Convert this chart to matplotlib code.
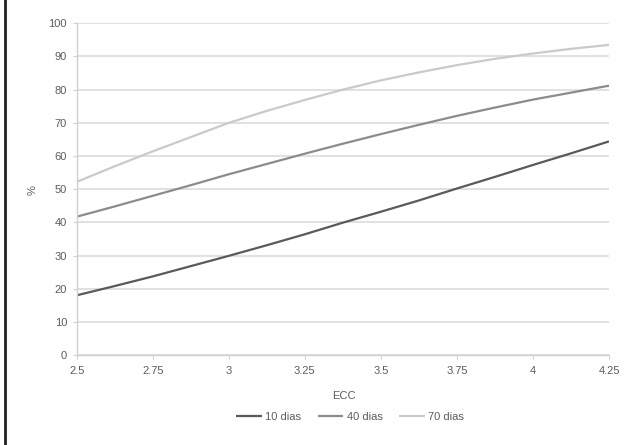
import matplotlib
matplotlib.use('Agg')
import matplotlib.pyplot as plt
from matplotlib.lines import Line2D

plt.rcParams['font.family'] = ['Liberation Sans', 'DejaVu Sans']

# ECC values and % for each period
ecc = [2.5, 2.625, 2.75, 2.875, 3.0, 3.125, 3.25, 3.375, 3.5, 3.625, 3.75, 3.875, 4.0, 4.125, 4.25]
dias10 = [18.0, 20.8, 23.7, 26.8, 29.9, 33.1, 36.4, 39.9, 43.2, 46.6, 50.2, 53.7, 57.3, 60.8, 64.4]
dias40 = [41.7, 44.8, 48.0, 51.2, 54.5, 57.6, 60.7, 63.7, 66.6, 69.4, 72.1, 74.6, 77.0, 79.1, 81.2]
dias70 = [52.2, 56.9, 61.4, 65.7, 70.0, 73.6, 76.9, 80.0, 82.8, 85.2, 87.4, 89.3, 90.9, 92.3, 93.5]

series = [('10 dias', dias10, '#5a5a5a'),
          ('40 dias', dias40, '#8c8c8c'),
          ('70 dias', dias70, '#cacaca')]

xticks = [2.5, 2.75, 3, 3.25, 3.5, 3.75, 4, 4.25]
xlabels = ['2.5', '2.75', '3', '3.25', '3.5', '3.75', '4', '4.25']
yticks = list(range(0, 101, 10))

fig = plt.figure(figsize=(6.42, 4.45), dpi=100)
ax = fig.add_axes([0.1195, 0.2022, 0.8291, 0.7454])

for name, vals, col in series:
    ax.plot(ecc, vals, color=col, lw=1.6, label=name, solid_capstyle='butt')

ax.set_xlim(2.5, 4.25)
ax.set_ylim(0, 100)
ax.set_xticks(xticks)
ax.set_xticklabels(xlabels)
ax.set_yticks(yticks)
ax.yaxis.grid(True, color='#dcdcdc', lw=1.2)
ax.set_axisbelow(True)
for s in ['top', 'right']:
    ax.spines[s].set_visible(False)
for s in ['left', 'bottom']:
    ax.spines[s].set_color('#d0d0d0')
    ax.spines[s].set_linewidth(1.0)
ax.tick_params(axis='both', colors='#d0d0d0', labelcolor='#5c5c5c', labelsize=8, length=3, width=0.8)
ax.tick_params(axis='x', pad=5)
ax.tick_params(axis='y', pad=4)

fig.text(33 / 642, 1 - 190 / 445, '%', fontsize=8, color='#5c5c5c', rotation=90, ha='center', va='center')
fig.text(344 / 642, 1 - 396 / 445, 'ECC', fontsize=8, color='#5c5c5c', ha='center', va='center')

fig.legend(loc='center', bbox_to_anchor=(350 / 642, 1 - 417 / 445), ncol=3, frameon=False,
           fontsize=8, handlelength=2.3, columnspacing=1.5, handletextpad=0.3, labelcolor='#5c5c5c')

# black border on the left side of the image
fig.add_artist(Line2D([5 / 642, 5 / 642], [0, 1], color='#222222', lw=2.0, transform=fig.transFigure))

fig.savefig('out.png', dpi=100)
